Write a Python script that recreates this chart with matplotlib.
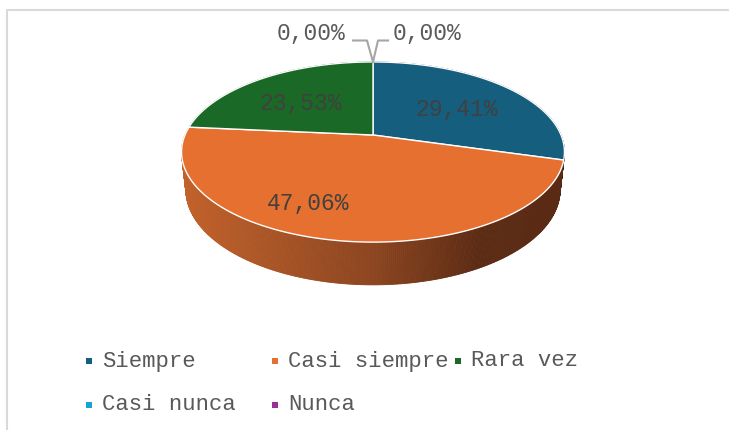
import numpy as np
import matplotlib
matplotlib.use("Agg")
import matplotlib.pyplot as plt
from matplotlib.patches import Polygon
from matplotlib.lines import Line2D

# ---- data ----
categories = ["Siempre", "Casi siempre", "Rara vez", "Casi nunca", "Nunca"]
percentages = [29.41, 47.06, 23.53, 0.00, 0.00]
labels = ["29,41%", "47,06%", "23,53%", "0,00%", "0,00%"]
colors = ["#165E7E", "#E57030", "#1B6926", "#1AA1DA", "#9B2D93"]

# ---- layout (pixel space) ----
W, H = 729, 430
DPI = 100
fig = plt.figure(figsize=(W / DPI, H / DPI), dpi=DPI)
ax = fig.add_axes([0, 0, 1, 1])
ax.set_xlim(0, W)
ax.set_ylim(H, 0)
ax.axis("off")

FONT = "Liberation Mono"

# perspective projection of a 3D pie
CX, CY = 373.0, 135.0
S = 188.0
D = 4.69
SN, CS = 0.462, 0.887
HGT = 0.228


def proj(t_deg, z=0.0, r=1.0):
    t = np.radians(t_deg)
    x = r * np.cos(t)
    y = r * np.sin(t)
    depth = D + y * CS - z * SN
    u = CX + S * x * D / depth
    v = CY - S * (y * SN + z * CS) * D / depth
    return u, v


# slice angles: start at 90 deg, clockwise
total = sum(percentages)
starts, ends = [], []
a = 90.0
for p in percentages:
    starts.append(a)
    a = a - 360.0 * p / total
    ends.append(a)

# side shading colours (by horizontal position)
side_stops_x = [182, 373, 480, 570]
side_stops_c = [(194, 98, 43), (140, 69, 32), (92, 43, 20), (90, 42, 20)]


def side_color(u, base):
    cols = []
    for k in range(3):
        cols.append(np.interp(u, side_stops_x, [c[k] for c in side_stops_c]))
    col = np.array(cols) / 255.0
    if base != colors[1]:
        b = np.array(matplotlib.colors.to_rgb(base))
        o = np.array(matplotlib.colors.to_rgb(colors[1]))
        col = np.clip(col * (b / np.maximum(o, 1e-3)), 0, 1)
    return col


# side strips
strips = []
for i, p in enumerate(percentages):
    if p <= 0:
        continue
    t0, t1 = starts[i], ends[i]
    n = max(2, int(abs(t0 - t1) / 0.5))
    ts = np.linspace(t0, t1, n + 1)
    for j in range(n):
        ta, tb = ts[j], ts[j + 1]
        tm = 0.5 * (ta + tb)
        pts = [proj(ta, 0), proj(tb, 0), proj(tb, -HGT), proj(ta, -HGT)]
        um = proj(tm, 0)[0]
        strips.append((np.sin(np.radians(tm)), pts, side_color(um, colors[i])))

strips.sort(key=lambda s: -s[0])
for _, pts, col in strips:
    ax.add_patch(Polygon(pts, closed=True, facecolor=col, edgecolor=col,
                         linewidth=0.6, zorder=1))

# top faces
for i, p in enumerate(percentages):
    if p <= 0:
        continue
    ts = np.linspace(starts[i], ends[i], 200)
    pts = [proj(CX * 0 + 0, 0, 0)] + [proj(t, 0) for t in ts]
    ax.add_patch(Polygon(pts, closed=True, facecolor=colors[i],
                         edgecolor="white", linewidth=1.0, zorder=2,
                         joinstyle="round"))

# data labels inside slices
label_pos = [(457, 110), (308, 204), (301, 104)]
for i in range(3):
    ax.text(label_pos[i][0], label_pos[i][1], labels[i], family=FONT,
            fontsize=16.5, color="#404040", ha="center", va="center", zorder=5)

# zero labels with leader lines
top_u, top_v = proj(90, 0)
ax.text(311, 34, labels[3], family=FONT, fontsize=16.5, color="#595959",
        ha="center", va="center", zorder=5)
ax.text(427, 34, labels[4], family=FONT, fontsize=16.5, color="#595959",
        ha="center", va="center", zorder=5)
ax.add_line(Line2D([353, 367, top_u], [40.5, 40.5, top_v], color="#A6A6A6",
                   lw=1.5, zorder=4))
ax.add_line(Line2D([388, 378, top_u], [40.5, 40.5, top_v], color="#A6A6A6",
                   lw=1.5, zorder=4))

# legend
legend_rows = [[0, 1, 2], [3, 4]]
col_x = [89, 275, 458]
row_y = [361, 405]
for r, row in enumerate(legend_rows):
    for c, idx in enumerate(row):
        ax.scatter([col_x[c]], [row_y[r]], marker="s", s=20, color=colors[idx],
                   linewidths=0, zorder=5)
        ax.text(col_x[c] + 13, row_y[r], categories[idx], family=FONT,
                fontsize=16, color="#595959", ha="left", va="center", zorder=5)

# chart frame (light gray)
ax.add_line(Line2D([7, 7, W + 5], [H + 5, 10, 10], color="#D9D9D9", lw=1.5,
                   zorder=0))

fig.savefig("out.png", dpi=DPI)
